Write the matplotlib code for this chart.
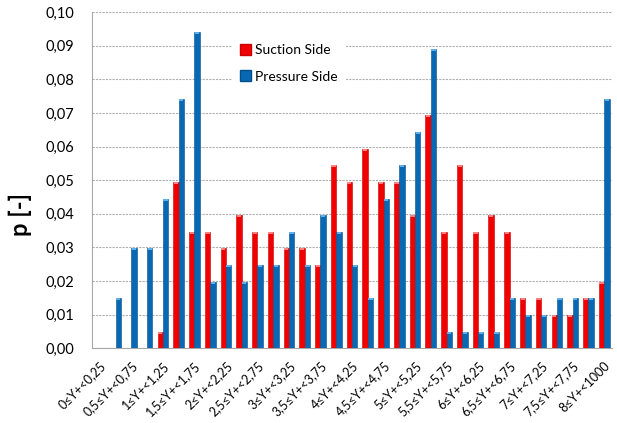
import matplotlib
matplotlib.use("Agg")
import matplotlib.pyplot as plt
import numpy as np
from matplotlib.patches import Patch

categories = ["0≤Y+<0,25", "0,25≤Y+<0,5", "0,5≤Y+<0,75", "0,75≤Y+<1",
              "1≤Y+<1,25", "1,25≤Y+<1,5", "1,5≤Y+<1,75", "1,75≤Y+<2",
              "2≤Y+<2,25", "2,25≤Y+<2,5", "2,5≤Y+<2,75", "2,75≤Y+<3",
              "3≤Y+<3,25", "3,25≤Y+<3,5", "3,5≤Y+<3,75", "3,75≤Y+<4",
              "4≤Y+<4,25", "4,25≤Y+<4,5", "4,5≤Y+<4,75", "4,75≤Y+<5",
              "5≤Y+<5,25", "5,25≤Y+<5,5", "5,5≤Y+<5,75", "5,75≤Y+<6",
              "6≤Y+<6,25", "6,25≤Y+<6,5", "6,5≤Y+<6,75", "6,75≤Y+<7",
              "7≤Y+<7,25", "7,25≤Y+<7,5", "7,5≤Y+<7,75", "7,75≤Y+<8",
              "8≤Y+<1000"]

suction = [0.0, 0.0, 0.0, 0.0, 0.00495, 0.0495, 0.03465, 0.03465,
           0.0297, 0.0396, 0.03465, 0.03465, 0.0297, 0.0297, 0.02475, 0.05446,
           0.0495, 0.0594, 0.0495, 0.0495, 0.0396, 0.06931, 0.03465, 0.05446,
           0.03465, 0.0396, 0.03465, 0.01485, 0.01485, 0.0099, 0.0099, 0.01485,
           0.0198]

pressure = [0.0, 0.01485, 0.0297, 0.0297, 0.04455, 0.07426, 0.09406, 0.0198,
            0.02475, 0.0198, 0.02475, 0.02475, 0.03465, 0.02475, 0.0396, 0.03465,
            0.02475, 0.01485, 0.04455, 0.05446, 0.06436, 0.08911, 0.00495, 0.00495,
            0.00495, 0.00495, 0.01485, 0.0099, 0.0099, 0.01485, 0.01485, 0.01485,
            0.07426]

yticks = [0.0, 0.01, 0.02, 0.03, 0.04, 0.05, 0.06, 0.07, 0.08, 0.09, 0.10]
ytick_labels = ["0,00", "0,01", "0,02", "0,03", "0,04", "0,05", "0,06",
                "0,07", "0,08", "0,09", "0,10"]

plt.rcParams['font.family'] = ['Lato', 'DejaVu Sans']

fig = plt.figure(figsize=(6.17, 4.23), dpi=100)
ax = fig.add_axes([0.149, 0.177, 0.843, 0.794])

x = np.arange(len(categories))
w = 0.34
red = "#f00000"
blue = "#0868b4"
ax.bar(x - w / 2, suction, width=w, color=red, edgecolor="#c80000",
       linewidth=0.4, zorder=3, label="Suction Side")
ax.bar(x + w / 2, pressure, width=w, color=blue, edgecolor="#05508c",
       linewidth=0.4, zorder=3, label="Pressure Side")
# light bevel caps
for xs, vals, cap in ((x - w / 2, suction, "#ff8080"), (x + w / 2, pressure, "#5fb0e8")):
    for xi, v in zip(xs, vals):
        if v > 0:
            ax.bar(xi, 0.0006, bottom=v - 0.0006, width=w * 0.8, color=cap,
                   linewidth=0, zorder=4)

ax.set_xlim(-0.5, len(categories) - 0.5)
ax.set_ylim(0, 0.10)
ax.set_yticks(yticks)
ax.set_yticklabels(ytick_labels, fontsize=10.5)
ax.set_xticks(x[::2])
ax.set_xticklabels(categories[::2], rotation=45, ha="right", va="top",
                   rotation_mode="anchor", fontsize=9,
                   family=['Lato', 'DejaVu Sans'])
ax.tick_params(axis="x", length=0, pad=8)
ax.tick_params(axis="y", length=0, pad=13)

ax.grid(axis="y", color="#b0b0b0", linestyle=(0, (2, 1)), linewidth=0.8, zorder=0)
for s in ("top", "right"):
    ax.spines[s].set_visible(False)
ax.spines["left"].set_color("#a8a8a8")
ax.spines["bottom"].set_color("#a8a8a8")

fig.text(20 / 617, 1 - 214 / 423, "p [-]", rotation=90, ha="center", va="center",
         fontsize=17, fontweight="bold")

handles = [Patch(facecolor=red, edgecolor="#c80000"),
           Patch(facecolor=blue, edgecolor="#05508c")]
leg = ax.legend(handles, ["Suction Side", "Pressure Side"],
                loc="upper left", bbox_to_anchor=(0.255, 0.95),
                frameon=True, fontsize=10, handlelength=0.8, handleheight=0.8,
                handletextpad=0.3, labelspacing=1.0, borderpad=0.6)
leg.get_frame().set_edgecolor("none")
leg.get_frame().set_facecolor("white")
leg.get_frame().set_alpha(1)
leg.set_zorder(5)

fig.savefig("out.png", dpi=100)
